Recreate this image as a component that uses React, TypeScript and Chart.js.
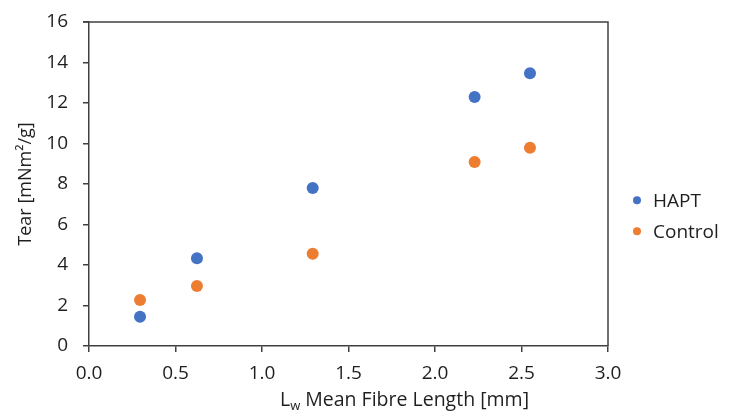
import React, { useEffect, useRef } from 'react';
import { Chart, registerables } from 'chart.js';

Chart.register(...registerables);

// ---- data ----
const fibreLength = [0.295, 0.624, 1.293, 2.229, 2.549];
const haptTear = [1.45, 4.33, 7.8, 12.3, 13.47];
const controlTear = [2.27, 2.96, 4.56, 9.09, 9.79];
const seriesNames = ['HAPT', 'Control'];
const seriesColors = ['#4472C4', '#ED7D31'];
const yTitle = 'Tear [mNm²/g]';
const xTitleMain = 'L';
const xTitleSub = 'w';
const xTitleRest = ' Mean Fibre Length [mm]';

const FONT = '"Open Sans", "DejaVu Sans", sans-serif';
const AXIS = '#404040';
const TEXT = '#1f1f1f';

const decorPlugin = {
  id: 'decor',
  afterDraw(chart: any) {
    const { ctx, chartArea } = chart;
    const { left, right, top, bottom } = chartArea;
    ctx.save();
    // plot-area border (top & right)
    ctx.strokeStyle = AXIS;
    ctx.lineWidth = 1.5;
    ctx.beginPath();
    ctx.moveTo(left - 6, top);
    ctx.lineTo(right, top);
    ctx.lineTo(right, bottom);
    ctx.stroke();

    // x-axis title with subscript
    ctx.fillStyle = TEXT;
    ctx.textBaseline = 'alphabetic';
    const big = `19.5px ${FONT}`;
    const small = `13px ${FONT}`;
    ctx.font = big;
    const w1 = ctx.measureText(xTitleMain).width;
    const w3 = ctx.measureText(xTitleRest).width;
    ctx.font = small;
    const w2 = ctx.measureText(xTitleSub).width;
    const total = w1 + w2 + w3;
    const cx = (left + right) / 2 + 56;
    const base = bottom + 60;
    let x = cx - total / 2;
    ctx.font = big;
    ctx.fillText(xTitleMain, x, base);
    x += w1;
    ctx.font = small;
    ctx.fillText(xTitleSub, x, base + 4);
    x += w2;
    ctx.font = big;
    ctx.fillText(xTitleRest, x, base);

    // legend
    const midY = (top + bottom) / 2 + 31.75;
    chart.data.datasets.forEach((ds: any, i: number) => {
      const y = midY - 15.5 + i * 31;
      ctx.fillStyle = ds.backgroundColor;
      ctx.beginPath();
      ctx.arc(right + 29, y, 4, 0, Math.PI * 2);
      ctx.fill();
      ctx.fillStyle = TEXT;
      ctx.font = `19px ${FONT}`;
      ctx.textBaseline = 'middle';
      ctx.fillText(ds.label, right + 45, y + 1);
    });
    ctx.restore();
  },
};

export default function App() {
  const ref = useRef<HTMLCanvasElement>(null);
  useEffect(() => {
    const canvas = ref.current!;
    const chart = new Chart(canvas, {
      type: 'scatter',
      data: {
        datasets: [
          {
            label: seriesNames[0],
            data: fibreLength.map((x, i) => ({ x, y: haptTear[i] })),
            backgroundColor: seriesColors[0],
            borderColor: seriesColors[0],
            pointRadius: 6,
            borderWidth: 0,
          },
          {
            label: seriesNames[1],
            data: fibreLength.map((x, i) => ({ x, y: controlTear[i] })),
            backgroundColor: seriesColors[1],
            borderColor: seriesColors[1],
            pointRadius: 6,
            borderWidth: 0,
          },
        ],
      },
      options: {
        responsive: false,
        animation: false,
        layout: { padding: { left: 0, top: 22, right: 131, bottom: 0 } },
        plugins: {
          legend: { display: false },
          tooltip: { enabled: false },
        },
        scales: {
          x: {
            type: 'linear',
            min: 0,
            max: 3,
            ticks: {
              stepSize: 0.5,
              color: TEXT,
              font: { family: FONT, size: 19 },
              padding: 10,
              callback: (v: any) => Number(v).toFixed(1),
            },
            grid: { drawOnChartArea: false, color: AXIS, tickLength: 6, lineWidth: 1.5 },
            border: { color: AXIS, width: 1.5 },
            afterFit: (s: any) => { s.height = 65; s.paddingLeft = 0; s.paddingRight = 0; },
          },
          y: {
            type: 'linear',
            min: 0,
            max: 16,
            ticks: {
              stepSize: 2,
              color: TEXT,
              font: { family: FONT, size: 19 },
              padding: 15,
            },
            grid: { drawOnChartArea: false, color: AXIS, tickLength: 6, lineWidth: 1.5 },
            border: { color: AXIS, width: 1.5 },
            title: {
              display: true,
              text: yTitle,
              color: TEXT,
              font: { family: FONT, size: 18 },
              padding: { top: 15, bottom: 0 },
            },
            afterFit: (s: any) => { s.width = 89; s.paddingTop = 0; s.paddingBottom = 0; },
          },
        },
      },
      plugins: [decorPlugin],
    });
    return () => chart.destroy();
  }, []);
  return (
    <div style={{ position: 'fixed', left: 0, top: 0, width: 739, height: 411, background: '#fff' }}>
      <canvas ref={ref} width={739} height={411} />
    </div>
  );
}
